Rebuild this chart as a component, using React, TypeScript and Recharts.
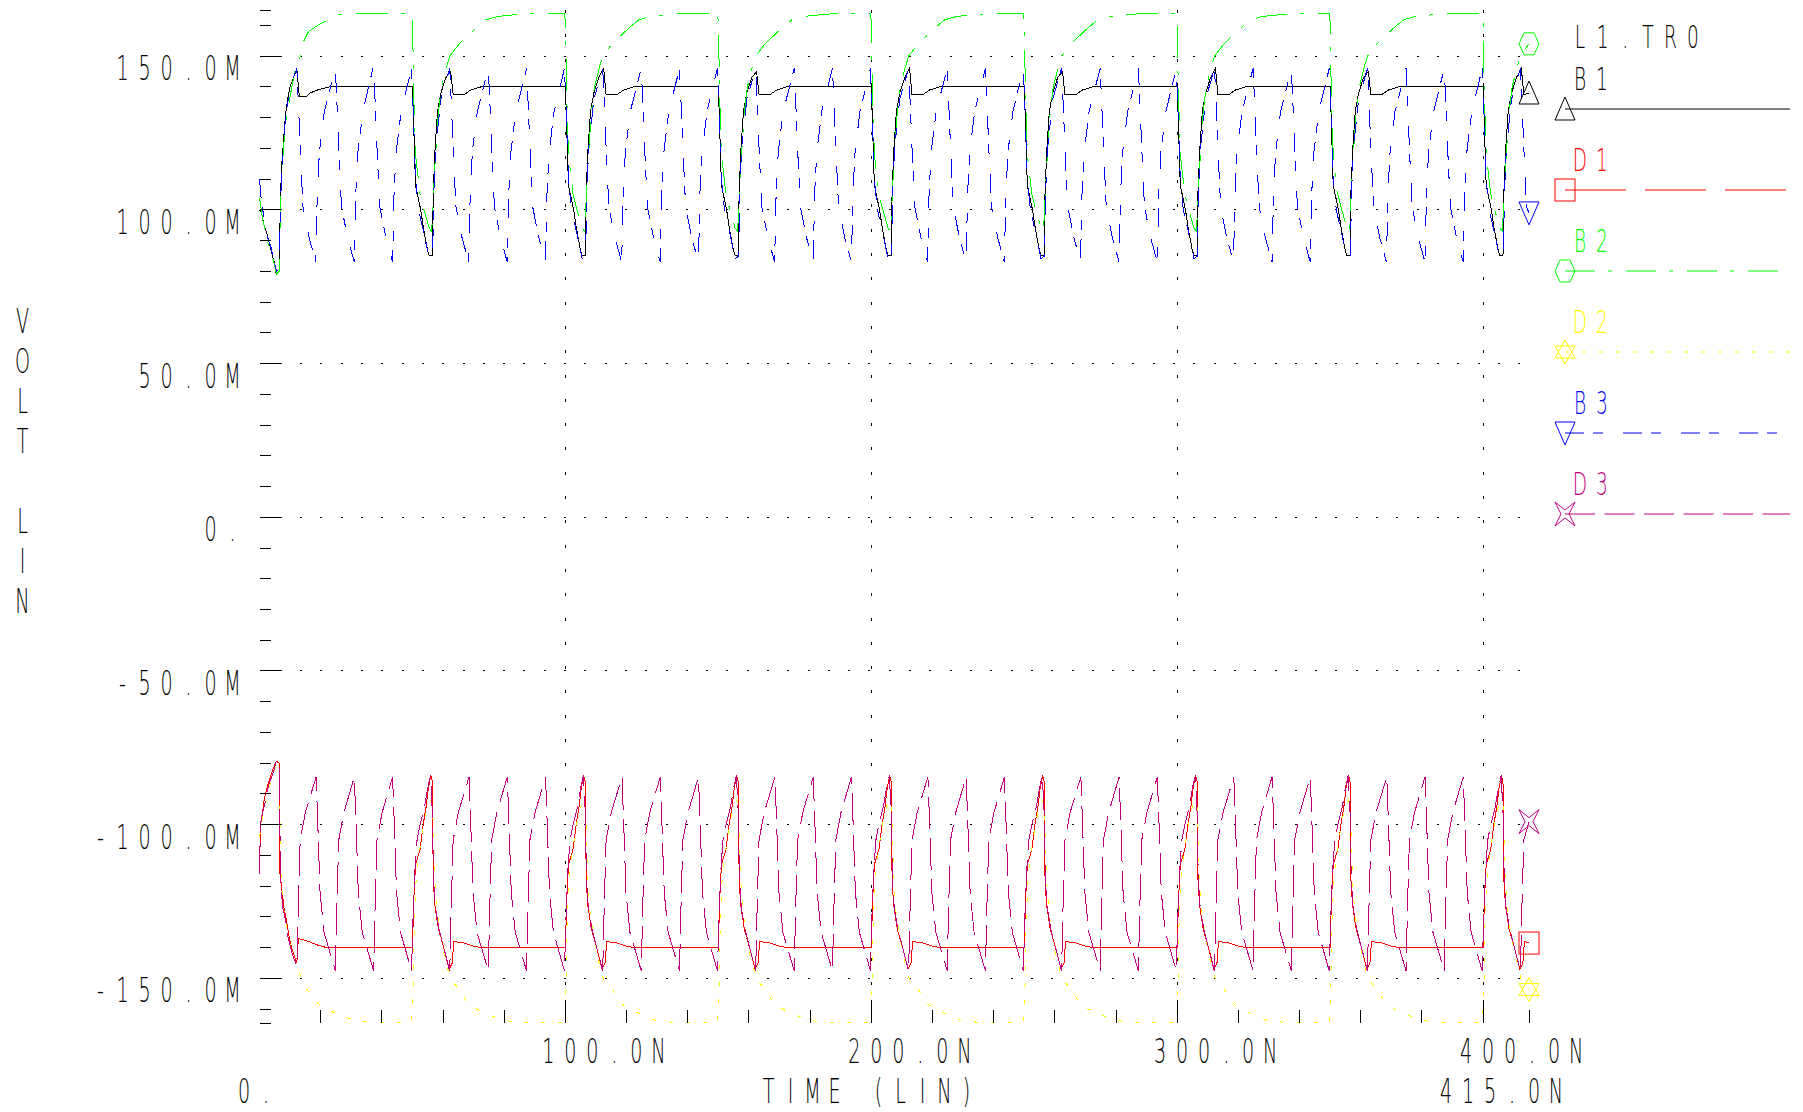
import React from 'react'
import { LineChart, Line, XAxis, YAxis, CartesianGrid, Legend } from 'recharts'

type Pt = [number, number]

// time (ns), voltage (mV)
const B1: Pt[] = [
  [0,100],[0.7,99],[1.5,95],[2.5,92],[3.5,88],[4.8,83],[5.5,79],[6.5,80],[6.8,103],[7.3,115],[8.5,131],[9.2,136],[10,140],[11.5,144],[12.2,146],[13,137],[15.5,137],[16.5,138],[19,139],[23,140],
  [50,140],[50.3,131],[51,108],[52.7,100],[53.6,94],[54.9,87],[55.5,85],[56.5,85],[56.8,106],[57.4,120],[58.2,132],[59.3,138],[60.9,143],[62.5,145],[63.3,137.5],[66.9,137.5],[69.1,139],[72.4,140],
  [100,140],[100.3,131],[101,108],[102.7,100],[103.6,94],[104.9,87],[105.5,85],[106.5,85],[106.8,106],[107.4,120],[108.2,132],[109.3,138],[110.9,143],[112.5,146],[113.3,137.5],[116.9,137.5],[119.1,139],[122.4,140],
  [150,140],[150.3,131],[151,108],[152.7,100],[153.6,94],[154.9,87],[155.5,85],[156.5,85],[156.8,106],[157.4,120],[158.2,132],[159.3,138],[160.9,143],[162.5,145],[163.3,137.5],[166.9,137.5],[169.1,139],[172.4,140],
  [200,140],[200.3,131],[201,108],[202.7,100],[203.6,94],[204.9,87],[205.5,85],[206.5,85],[206.8,106],[207.4,120],[208.2,132],[209.3,138],[210.9,143],[212.5,146],[213.3,137.5],[216.9,137.5],[219.1,139],[222.4,140],
  [250,140],[250.3,131],[251,108],[252.7,100],[253.6,94],[254.9,87],[255.5,85],[256.5,85],[256.8,106],[257.4,120],[258.2,132],[259.3,138],[260.9,143],[262.5,145],[263.3,137.5],[266.9,137.5],[269.1,139],[272.4,140],
  [300,140],[300.3,131],[301,108],[302.7,100],[303.6,94],[304.9,87],[305.5,85],[306.5,85],[306.8,106],[307.4,120],[308.2,132],[309.3,138],[310.9,143],[312.5,146],[313.3,137.5],[316.9,137.5],[319.1,139],[322.4,140],
  [350,140],[350.3,131],[351,108],[352.7,100],[353.6,94],[354.9,87],[355.5,85],[356.5,85],[356.8,106],[357.4,120],[358.2,132],[359.3,138],[360.9,143],[362.5,145],[363.3,137.5],[366.9,137.5],[369.1,139],[372.4,140],
  [400,140],[400.3,131],[401,108],[402.7,100],[403.6,94],[404.9,87],[405.5,85],[406.5,85],[406.8,106],[407.4,120],[408.2,132],[409.3,138],[410.9,143],[412.5,146],[413.3,137.5],[415,138],
]

const D1: Pt[] = [
  [0,-115.7],[0.3,-100],[0.8,-98],[1.5,-92],[3,-86],[4,-83],[5.5,-79.3],[6.4,-80],[6.6,-115],[7.3,-121],[8,-127],[8.8,-131],[9.8,-137],[10.8,-141],[12.2,-145],[12.7,-137],[14.5,-137.5],[16,-138],[18.5,-139],[22,-140],
  [50,-140],[50.4,-125],[51,-113],[52.5,-108],[53.5,-100],[54.5,-94],[55.2,-88],[56,-84],[56.5,-86],[56.8,-118],[57.3,-126],[58.5,-134],[60.5,-141],[62,-147],[63,-145],[63.5,-138],[67,-138.5],[70,-139.5],[72.5,-140],
  [100,-140],[100.4,-125],[101,-113],[102.5,-108],[103.5,-100],[104.5,-94],[105.2,-88],[106,-84],[106.5,-86],[106.8,-118],[107.3,-126],[108.5,-134],[110.5,-141],[112,-147],[113,-145],[113.5,-138],[117,-138.5],[120,-139.5],[122.5,-140],
  [150,-140],[150.4,-125],[151,-113],[152.5,-108],[153.5,-100],[154.5,-94],[155.2,-88],[156,-84],[156.5,-86],[156.8,-118],[157.3,-126],[158.5,-134],[160.5,-141],[162,-147],[163,-145],[163.5,-138],[167,-138.5],[170,-139.5],[172.5,-140],
  [200,-140],[200.4,-125],[201,-113],[202.5,-108],[203.5,-100],[204.5,-94],[205.2,-88],[206,-84],[206.5,-86],[206.8,-118],[207.3,-126],[208.5,-134],[210.5,-141],[212,-147],[213,-145],[213.5,-138],[217,-138.5],[220,-139.5],[222.5,-140],
  [250,-140],[250.4,-125],[251,-113],[252.5,-108],[253.5,-100],[254.5,-94],[255.2,-88],[256,-84],[256.5,-86],[256.8,-118],[257.3,-126],[258.5,-134],[260.5,-141],[262,-147],[263,-145],[263.5,-138],[267,-138.5],[270,-139.5],[272.5,-140],
  [300,-140],[300.4,-125],[301,-113],[302.5,-108],[303.5,-100],[304.5,-94],[305.2,-88],[306,-84],[306.5,-86],[306.8,-118],[307.3,-126],[308.5,-134],[310.5,-141],[312,-147],[313,-145],[313.5,-138],[317,-138.5],[320,-139.5],[322.5,-140],
  [350,-140],[350.4,-125],[351,-113],[352.5,-108],[353.5,-100],[354.5,-94],[355.2,-88],[356,-84],[356.5,-86],[356.8,-118],[357.3,-126],[358.5,-134],[360.5,-141],[362,-147],[363,-145],[363.5,-138],[367,-138.5],[370,-139.5],[372.5,-140],
  [400,-140],[400.4,-125],[401,-113],[402.5,-108],[403.5,-100],[404.5,-94],[405.2,-88],[406,-84],[406.5,-86],[406.8,-118],[407.3,-126],[408.5,-134],[410.5,-141],[412,-147],[413,-145],[413.5,-138],[415,-138.5],
]

const B2: Pt[] = [
  [0,104],[1,97],[2.6,90],[3.7,86],[4.7,83],[5.6,79],[6.4,80],[6.8,98],[7.3,112],[8,122],[9,131],[10,137],[11.6,145],[13.3,150],[14.5,155],[16,158],[19,160],[22.8,162],[26,163.5],[31,164],
  [49.7,164],[50.1,160],[50.3,141],[51,118],[52.5,105],[53.5,101],[55.5,94],[56.3,93],[57.2,112],[57.7,120],[58.5,132],[59.5,140],[61,146],[62.2,150],[65.3,154],[69,157.5],[71.3,159.6],[74,161.8],[77.8,162.9],[83,163.4],[90,164],
  [99.7,164],[100.1,160],[100.3,141],[101,118],[102.5,105],[103.5,101],[105.5,94],[106.3,93],[107.2,112],[107.7,120],[108.5,132],[109.5,140],[111,146],[112.2,150],[115.3,154],[119,157.5],[121.3,159.6],[124,161.8],[127.8,162.9],[133,163.4],[140,164],
  [149.7,164],[150.1,160],[150.3,141],[151,118],[152.5,105],[153.5,101],[155.5,94],[156.3,93],[157.2,112],[157.7,120],[158.5,132],[159.5,140],[161,146],[162.2,150],[165.3,154],[169,157.5],[171.3,159.6],[174,161.8],[177.8,162.9],[183,163.4],[190,164],
  [199.7,164],[200.1,160],[200.3,141],[201,118],[202.5,105],[203.5,101],[205.5,94],[206.3,93],[207.2,112],[207.7,120],[208.5,132],[209.5,140],[211,146],[212.2,150],[215.3,154],[219,157.5],[221.3,159.6],[224,161.8],[227.8,162.9],[233,163.4],[240,164],
  [249.7,164],[250.1,160],[250.3,141],[251,118],[252.5,105],[253.5,101],[255.5,94],[256.3,93],[257.2,112],[257.7,120],[258.5,132],[259.5,140],[261,146],[262.2,150],[265.3,154],[269,157.5],[271.3,159.6],[274,161.8],[277.8,162.9],[283,163.4],[290,164],
  [299.7,164],[300.1,160],[300.3,141],[301,118],[302.5,105],[303.5,101],[305.5,94],[306.3,93],[307.2,112],[307.7,120],[308.5,132],[309.5,140],[311,146],[312.2,150],[315.3,154],[319,157.5],[321.3,159.6],[324,161.8],[327.8,162.9],[333,163.4],[340,164],
  [349.7,164],[350.1,160],[350.3,141],[351,118],[352.5,105],[353.5,101],[355.5,94],[356.3,93],[357.2,112],[357.7,120],[358.5,132],[359.5,140],[361,146],[362.2,150],[365.3,154],[369,157.5],[371.3,159.6],[374,161.8],[377.8,162.9],[383,163.4],[390,164],
  [399.7,164],[400.1,160],[400.3,141],[401,118],[402.5,105],[403.5,101],[405.5,94],[406.3,93],[407.2,112],[407.7,120],[408.5,132],[409.5,140],[411,146],[412.2,150],[415,154],
]

const D2: Pt[] = [
  [0,-104],[1.3,-96],[2.6,-90],[4,-85],[5.6,-80],[6.5,-82],[6.9,-110],[8,-128],[9.5,-137],[11,-143],[12.8,-147],[14,-151.5],[16.5,-155],[19,-158],[22,-160],[26,-162],[31,-163.5],[36,-164.3],
  [49.7,-164.3],[50.1,-158],[50.3,-150],[50.6,-132],[51.2,-118],[52,-111],[53,-104],[54,-98],[55,-94],[56,-92],[56.6,-94],[57.3,-118],[58,-128],[59,-135],[60.5,-143],[62.5,-150.5],[65.3,-153.4],[68,-158],[71,-160],[75.6,-162],[79,-163.5],[85,-164.3],
  [99.7,-164.3],[100.1,-158],[100.3,-150],[100.6,-132],[101.2,-118],[102,-111],[103,-104],[104,-98],[105,-94],[106,-92],[106.6,-94],[107.3,-118],[108,-128],[109,-135],[110.5,-143],[112.5,-150.5],[115.3,-153.4],[118,-158],[121,-160],[125.6,-162],[129,-163.5],[135,-164.3],
  [149.7,-164.3],[150.1,-158],[150.3,-150],[150.6,-132],[151.2,-118],[152,-111],[153,-104],[154,-98],[155,-94],[156,-92],[156.6,-94],[157.3,-118],[158,-128],[159,-135],[160.5,-143],[162.5,-150.5],[165.3,-153.4],[168,-158],[171,-160],[175.6,-162],[179,-163.5],[185,-164.3],
  [199.7,-164.3],[200.1,-158],[200.3,-150],[200.6,-132],[201.2,-118],[202,-111],[203,-104],[204,-98],[205,-94],[206,-92],[206.6,-94],[207.3,-118],[208,-128],[209,-135],[210.5,-143],[212.5,-150.5],[215.3,-153.4],[218,-158],[221,-160],[225.6,-162],[229,-163.5],[235,-164.3],
  [249.7,-164.3],[250.1,-158],[250.3,-150],[250.6,-132],[251.2,-118],[252,-111],[253,-104],[254,-98],[255,-94],[256,-92],[256.6,-94],[257.3,-118],[258,-128],[259,-135],[260.5,-143],[262.5,-150.5],[265.3,-153.4],[268,-158],[271,-160],[275.6,-162],[279,-163.5],[285,-164.3],
  [299.7,-164.3],[300.1,-158],[300.3,-150],[300.6,-132],[301.2,-118],[302,-111],[303,-104],[304,-98],[305,-94],[306,-92],[306.6,-94],[307.3,-118],[308,-128],[309,-135],[310.5,-143],[312.5,-150.5],[315.3,-153.4],[318,-158],[321,-160],[325.6,-162],[329,-163.5],[335,-164.3],
  [349.7,-164.3],[350.1,-158],[350.3,-150],[350.6,-132],[351.2,-118],[352,-111],[353,-104],[354,-98],[355,-94],[356,-92],[356.6,-94],[357.3,-118],[358,-128],[359,-135],[360.5,-143],[362.5,-150.5],[365.3,-153.4],[368,-158],[371,-160],[375.6,-162],[379,-163.5],[385,-164.3],
  [399.7,-164.3],[400.1,-158],[400.3,-150],[400.6,-132],[401.2,-118],[402,-111],[403,-104],[404,-98],[405,-94],[406,-92],[406.6,-94],[407.3,-118],[408,-128],[409,-135],[410.5,-143],[412.5,-150.5],[415,-153.6],
]

const B3: Pt[] = [
  [0,110],[0.5,104],[1.5,97],[2.6,91],[3.7,88],[4.6,84],[5.6,80],[6.5,81],[6.8,100],[7.4,116],[8.5,130],[10,140],[12.2,146],
  [12.7,135],[13.4,118],[14.2,101],[16.2,91],[18.4,83],[18.9,106],[19.6,119],[21.2,132],[24.8,146],[25.3,135],[26,118],[26.8,101],[28.8,91],[31,83],[31.5,106],[32.2,119],[33.8,132],[37.3,147],[37.8,135],[38.5,118],[39.3,101],[41.3,91],[43.5,83],[44,106],[44.7,119],[46.3,132],[49.7,146],
  [50.3,131],[51,110],[52,100],[53.6,93],[55.5,84],[56.6,85],[57,106],[57.6,120],[59.3,136],[62.2,146],[62.7,135],[63.4,118],[64.2,101],[66.2,91],[68.4,83],[68.9,106],[69.6,119],[71.2,132],[74.8,146],[75.3,135],[76,118],[76.8,101],[78.8,91],[81,83],[81.5,106],[82.2,119],[83.8,132],[87.3,146],[87.8,135],[88.5,118],[89.3,101],[91.3,91],[93.5,83],[94,106],[94.7,119],[96.3,132],[99.7,146],
  [100.3,131],[101,110],[102,100],[103.6,93],[105.5,84],[106.6,85],[107,106],[107.6,120],[109.3,136],[112.2,146],[112.7,135],[113.4,118],[114.2,101],[116.2,91],[118.4,83],[118.9,106],[119.6,119],[121.2,132],[124.8,146],[125.3,135],[126,118],[126.8,101],[128.8,91],[131,83],[131.5,106],[132.2,119],[133.8,132],[137.3,146],[137.8,135],[138.5,118],[139.3,101],[141.3,91],[143.5,83],[144,106],[144.7,119],[146.3,132],[149.7,146],
  [150.3,131],[151,110],[152,100],[153.6,93],[155.5,84],[156.6,85],[157,106],[157.6,120],[159.3,136],[162.2,146],[162.7,135],[163.4,118],[164.2,101],[166.2,91],[168.4,83],[168.9,106],[169.6,119],[171.2,132],[174.8,146],[175.3,135],[176,118],[176.8,101],[178.8,91],[181,83],[181.5,106],[182.2,119],[183.8,132],[187.3,146],[187.8,135],[188.5,118],[189.3,101],[191.3,91],[193.5,83],[194,106],[194.7,119],[196.3,132],[199.7,146],
  [200.3,131],[201,110],[202,100],[203.6,93],[205.5,84],[206.6,85],[207,106],[207.6,120],[209.3,136],[212.2,146],[212.7,135],[213.4,118],[214.2,101],[216.2,91],[218.4,83],[218.9,106],[219.6,119],[221.2,132],[224.8,146],[225.3,135],[226,118],[226.8,101],[228.8,91],[231,83],[231.5,106],[232.2,119],[233.8,132],[237.3,146],[237.8,135],[238.5,118],[239.3,101],[241.3,91],[243.5,83],[244,106],[244.7,119],[246.3,132],[249.7,146],
  [250.3,131],[251,110],[252,100],[253.6,93],[255.5,84],[256.6,85],[257,106],[257.6,120],[259.3,136],[262.2,146],[262.7,135],[263.4,118],[264.2,101],[266.2,91],[268.4,83],[268.9,106],[269.6,119],[271.2,132],[274.8,146],[275.3,135],[276,118],[276.8,101],[278.8,91],[281,83],[281.5,106],[282.2,119],[283.8,132],[287.3,146],[287.8,135],[288.5,118],[289.3,101],[291.3,91],[293.5,83],[294,106],[294.7,119],[296.3,132],[299.7,146],
  [300.3,131],[301,110],[302,100],[303.6,93],[305.5,84],[306.6,85],[307,106],[307.6,120],[309.3,136],[312.2,146],[312.7,135],[313.4,118],[314.2,101],[316.2,91],[318.4,83],[318.9,106],[319.6,119],[321.2,132],[324.8,146],[325.3,135],[326,118],[326.8,101],[328.8,91],[331,83],[331.5,106],[332.2,119],[333.8,132],[337.3,146],[337.8,135],[338.5,118],[339.3,101],[341.3,91],[343.5,83],[344,106],[344.7,119],[346.3,132],[349.7,146],
  [350.3,131],[351,110],[352,100],[353.6,93],[355.5,84],[356.6,85],[357,106],[357.6,120],[359.3,136],[362.2,146],[362.7,135],[363.4,118],[364.2,101],[366.2,91],[368.4,83],[368.9,106],[369.6,119],[371.2,132],[374.8,146],[375.3,135],[376,118],[376.8,101],[378.8,91],[381,83],[381.5,106],[382.2,119],[383.8,132],[387.3,146],[387.8,135],[388.5,118],[389.3,101],[391.3,91],[393.5,83],[394,106],[394.7,119],[396.3,132],[399.7,146],
  [400.3,131],[401,110],[402,100],[403.6,93],[405.5,84],[406.6,85],[407,106],[407.6,120],[409.3,136],[412.2,146],[412.7,135],[413.4,118],[414.2,101],[415,99],
]

const D3: Pt[] = [
  [0,-116],[0.3,-100],[1,-96],[2,-92],[3,-87],[4.5,-83],[5.6,-79],[6.4,-80],[6.6,-98],[7,-120],[7.6,-127],[8.5,-131],[9.4,-137],[10.7,-142],[12.2,-146],
  [12.7,-126],[13.3,-105],[15,-96],[18.5,-84.5],[19,-98],[19.8,-122],[21.1,-135],[24.8,-147.5],[25.3,-126],[25.9,-105],[27.6,-96],[31,-84.5],[31.5,-98],[32.3,-122],[33.6,-135],[37.3,-147.5],[37.8,-126],[38.4,-105],[40.1,-96],[43.5,-84.5],[44,-98],[44.8,-122],[46.1,-135],[49.7,-147.5],
  [50.2,-130],[50.8,-115],[51.5,-105],[52.5,-100],[54,-94],[55,-88],[55.9,-84],[56.5,-96],[56.9,-118],[57.5,-127],[58.7,-134],[60.5,-141],[62.2,-147.5],[62.7,-126],[63.3,-105],[65,-96],[68.5,-84.5],[69,-98],[69.8,-122],[71.1,-135],[74.8,-147.5],[75.3,-126],[75.9,-105],[77.6,-96],[81,-84.5],[81.5,-98],[82.3,-122],[83.6,-135],[87.3,-147.5],[87.8,-126],[88.4,-105],[90.1,-96],[93.5,-84.5],[94,-98],[94.8,-122],[96.1,-135],[99.7,-147.5],
  [100.2,-130],[100.8,-115],[101.5,-105],[102.5,-100],[104,-94],[105,-88],[105.9,-84],[106.5,-96],[106.9,-118],[107.5,-127],[108.7,-134],[110.5,-141],[112.2,-147.5],[112.7,-126],[113.3,-105],[115,-96],[118.5,-84.5],[119,-98],[119.8,-122],[121.1,-135],[124.8,-147.5],[125.3,-126],[125.9,-105],[127.6,-96],[131,-84.5],[131.5,-98],[132.3,-122],[133.6,-135],[137.3,-147.5],[137.8,-126],[138.4,-105],[140.1,-96],[143.5,-84.5],[144,-98],[144.8,-122],[146.1,-135],[149.7,-147.5],
  [150.2,-130],[150.8,-115],[151.5,-105],[152.5,-100],[154,-94],[155,-88],[155.9,-84],[156.5,-96],[156.9,-118],[157.5,-127],[158.7,-134],[160.5,-141],[162.2,-147.5],[162.7,-126],[163.3,-105],[165,-96],[168.5,-84.5],[169,-98],[169.8,-122],[171.1,-135],[174.8,-147.5],[175.3,-126],[175.9,-105],[177.6,-96],[181,-84.5],[181.5,-98],[182.3,-122],[183.6,-135],[187.3,-147.5],[187.8,-126],[188.4,-105],[190.1,-96],[193.5,-84.5],[194,-98],[194.8,-122],[196.1,-135],[199.7,-147.5],
  [200.2,-130],[200.8,-115],[201.5,-105],[202.5,-100],[204,-94],[205,-88],[205.9,-84],[206.5,-96],[206.9,-118],[207.5,-127],[208.7,-134],[210.5,-141],[212.2,-147.5],[212.7,-126],[213.3,-105],[215,-96],[218.5,-84.5],[219,-98],[219.8,-122],[221.1,-135],[224.8,-147.5],[225.3,-126],[225.9,-105],[227.6,-96],[231,-84.5],[231.5,-98],[232.3,-122],[233.6,-135],[237.3,-147.5],[237.8,-126],[238.4,-105],[240.1,-96],[243.5,-84.5],[244,-98],[244.8,-122],[246.1,-135],[249.7,-147.5],
  [250.2,-130],[250.8,-115],[251.5,-105],[252.5,-100],[254,-94],[255,-88],[255.9,-84],[256.5,-96],[256.9,-118],[257.5,-127],[258.7,-134],[260.5,-141],[262.2,-147.5],[262.7,-126],[263.3,-105],[265,-96],[268.5,-84.5],[269,-98],[269.8,-122],[271.1,-135],[274.8,-147.5],[275.3,-126],[275.9,-105],[277.6,-96],[281,-84.5],[281.5,-98],[282.3,-122],[283.6,-135],[287.3,-147.5],[287.8,-126],[288.4,-105],[290.1,-96],[293.5,-84.5],[294,-98],[294.8,-122],[296.1,-135],[299.7,-147.5],
  [300.2,-130],[300.8,-115],[301.5,-105],[302.5,-100],[304,-94],[305,-88],[305.9,-84],[306.5,-96],[306.9,-118],[307.5,-127],[308.7,-134],[310.5,-141],[312.2,-147.5],[312.7,-126],[313.3,-105],[315,-96],[318.5,-84.5],[319,-98],[319.8,-122],[321.1,-135],[324.8,-147.5],[325.3,-126],[325.9,-105],[327.6,-96],[331,-84.5],[331.5,-98],[332.3,-122],[333.6,-135],[337.3,-147.5],[337.8,-126],[338.4,-105],[340.1,-96],[343.5,-84.5],[344,-98],[344.8,-122],[346.1,-135],[349.7,-147.5],
  [350.2,-130],[350.8,-115],[351.5,-105],[352.5,-100],[354,-94],[355,-88],[355.9,-84],[356.5,-96],[356.9,-118],[357.5,-127],[358.7,-134],[360.5,-141],[362.2,-147.5],[362.7,-126],[363.3,-105],[365,-96],[368.5,-84.5],[369,-98],[369.8,-122],[371.1,-135],[374.8,-147.5],[375.3,-126],[375.9,-105],[377.6,-96],[381,-84.5],[381.5,-98],[382.3,-122],[383.6,-135],[387.3,-147.5],[387.8,-126],[388.4,-105],[390.1,-96],[393.5,-84.5],[394,-98],[394.8,-122],[396.1,-135],[399.7,-147.5],
  [400.2,-130],[400.8,-115],[401.5,-105],[402.5,-100],[404,-94],[405,-88],[405.9,-84],[406.5,-96],[406.9,-118],[407.5,-127],[408.7,-134],[410.5,-141],[412.2,-147.5],[412.7,-126],[413.3,-105],[415,-99],
]

const timeTicks = [0, 20, 40, 60, 80, 100, 120, 140, 160, 180, 200, 220, 240, 260, 280, 300, 320, 340, 360, 380, 400, 415]
const timeMajors = [0, 100, 200, 300, 400, 415]
const timeLabels = ['0.', '100.0N', '200.0N', '300.0N', '400.0N', '415.0N']
const voltTicks = [-164.5, -160, -150, -140, -130, -120, -110, -100, -90, -80, -70, -60, -50, -40, -30, -20, -10, 0, 10, 20, 30, 40, 50, 60, 70, 80, 90, 100, 110, 120, 130, 140, 150, 160, 165]
const voltMajors = [150, 100, 50, 0, -50, -100, -150]
const voltLabels = ['150.0M', '100.0M', '50.0M', '0.', '-50.0M', '-100.0M', '-150.0M']
const gridTimes = [100, 200, 300, 400]

const series = [
  { name: 'B1', data: B1, color: '#000000', dash: undefined, keyDash: undefined, mark: 'tri' },
  { name: 'D1', data: D1, color: '#ff0000', dash: undefined, keyDash: '61 19', mark: 'square' },
  { name: 'B2', data: B2, color: '#00ff00', dash: '32 13 4 14', keyDash: '30 13 4 14', mark: 'hex' },
  { name: 'D2', data: D2, color: '#ffff00', dash: '4 13', keyDash: '4 13', mark: 'star6' },
  { name: 'B3', data: B3, color: '#0000ff', dash: '19 9 10 20', keyDash: '19 9 10 20', mark: 'tridown' },
  { name: 'D3', data: D3, color: '#c0007f', dash: '32 9.5', keyDash: '30 9.5', mark: 'star4' },
]

const W = 1803
const H = 1112
const X0 = 259.5
const X1 = 1529
const Y0 = 10
const Y1 = 1023
const FONT = "'DejaVu Sans', 'Liberation Sans', sans-serif"

// plotter style lettering: fixed pitch, tall narrow thin glyphs
function Glyphs({ text, x, y, pitch = 22, fill = '#000', size = 33 }: any) {
  return (
    <g fill={fill} fontFamily={FONT} fontSize={size} fontWeight={200}>
      {Array.from(text as string).map((ch, i) =>
        ch === ' ' ? null : (
          <text key={i} textAnchor="middle" transform={`translate(${x + i * pitch} ${y}) scale(0.58 1)`}>
            {ch}
          </text>
        )
      )}
    </g>
  )
}

function Mark({ kind, cx, cy, color }: any) {
  const st = { fill: 'none', stroke: color, strokeWidth: 1 }
  const poly = (pts: number[][]) => (
    <polygon {...st} points={pts.map(([dx, dy]) => `${cx + dx},${cy + dy}`).join(' ')} />
  )
  if (kind === 'tri') return poly([[0, -12], [-10, 11], [10, 11]])
  if (kind === 'tridown') return poly([[-10, -11], [10, -11], [0, 12]])
  if (kind === 'square') return <rect {...st} x={cx - 10} y={cy - 11} width={20} height={22} />
  if (kind === 'hex') return poly([[-10, 0], [-5, -11], [5, -11], [10, 0], [5, 11], [-5, 11]])
  if (kind === 'star6')
    return (
      <g>
        {poly([[0, -12], [-10, 6], [10, 6]])}
        {poly([[0, 12], [-10, -6], [10, -6]])}
      </g>
    )
  return poly([[-10, -12], [0, -4], [10, -12], [4, 0], [10, 12], [0, 4], [-10, 12], [-4, 0]])
}

const endDot = (kind: string, color: string, n: number) => (p: any) => (
  <g key={`d${p.index}`}>{p.index === n - 1 ? <Mark kind={kind} cx={p.cx} cy={p.cy} color={color} /> : null}</g>
)

function VoltTickLeft(p: any) {
  const v = p.payload.value
  const k = voltMajors.indexOf(v)
  const label = k >= 0 ? voltLabels[k] : null
  return (
    <g>
      <line x1={X0} x2={X0 + (k >= 0 ? 22 : 11)} y1={p.y} y2={p.y} stroke="#000" shapeRendering="crispEdges" />
      {label && <Glyphs text={label} x={232.5 - (label.length - 1) * 22} y={p.y + 24} />}
    </g>
  )
}

function VoltTickRight(p: any) {
  const major = voltMajors.indexOf(p.payload.value) >= 0
  return <line x1={X1 - (major ? 22 : 11)} x2={X1} y1={p.y} y2={p.y} stroke="#000" shapeRendering="crispEdges" />
}

function TimeTick(p: any) {
  const t = p.payload.value
  const x = p.x
  const k = timeMajors.indexOf(t)
  const label = k >= 0 ? timeLabels[k] : null
  const major = t % 100 === 0
  let text = null
  if (label && t === 0) text = <Glyphs text={label} x={x - 15.5} y={1103} />
  else if (label && t === 415) text = <Glyphs text={label} x={x - 83} y={1103} />
  else if (label) text = <Glyphs text={label} x={x - 17} y={1063} />
  return (
    <g>
      {t > 0 && <line x1={x} x2={x} y1={major ? 1000 : 1010} y2={Y1} stroke="#000" shapeRendering="crispEdges" />}
      {text}
    </g>
  )
}

function TimeTitle() {
  return <Glyphs text="TIME (LIN)" x={768.5} y={1103} />
}

function VoltTitle() {
  return (
    <g>
      {Array.from('VOLT LIN').map((ch, i) =>
        ch === ' ' ? null : <Glyphs key={i} text={ch} x={22.5} y={333 + i * 40} />
      )}
    </g>
  )
}

function PlotKey() {
  return (
    <svg width={263} height={540} style={{ display: 'block' }}>
      <g transform="translate(-1540 0)">
        <Glyphs text="L1.TR0" x={1580} y={48} pitch={22.6} size={32} />
        {series.map((s, i) => {
          const ly = 109 + i * 81
          return (
            <g key={s.name}>
              <Glyphs text={s.name} x={1580} y={ly - 19.5} fill={s.color} size={32} />
              <line x1={1565} x2={1790} y1={ly} y2={ly} stroke={s.color} strokeDasharray={s.keyDash} />
              <Mark kind={s.mark} cx={1565} cy={ly} color={s.color} />
            </g>
          )
        })}
      </g>
    </svg>
  )
}

export default function App() {
  return (
    <div style={{ position: 'absolute', left: 0, top: 0, width: W, height: H, background: '#fff' }}>
      <LineChart width={W} height={H} margin={{ top: Y0, right: W - X1 - 1, bottom: H - Y1 - 1, left: X0 - 1 }}>
        <CartesianGrid
          yAxisId="l"
          vertical={false}
          horizontalValues={voltMajors}
          stroke="#000"
          strokeDasharray="2 18.3"
          shapeRendering="crispEdges"
        />
        <CartesianGrid
          yAxisId="l"
          horizontal={false}
          verticalValues={gridTimes}
          stroke="#000"
          strokeDasharray="3 21.3"
          shapeRendering="crispEdges"
        />
        <XAxis
          dataKey="t"
          type="number"
          domain={[0, 415]}
          ticks={timeTicks}
          interval={0}
          height={1}
          tickLine={false}
          axisLine={false}
          tick={(p: any) => <TimeTick {...p} />}
          label={<TimeTitle />}
        />
        <YAxis
          yAxisId="l"
          orientation="left"
          type="number"
          domain={[-164.5, 165]}
          ticks={voltTicks}
          interval={0}
          width={1}
          tickLine={false}
          axisLine={false}
          tick={(p: any) => <VoltTickLeft {...p} />}
          label={<VoltTitle />}
        />
        <YAxis
          yAxisId="r"
          orientation="right"
          type="number"
          domain={[-164.5, 165]}
          ticks={voltTicks}
          interval={0}
          width={1}
          tickLine={false}
          axisLine={false}
          tick={(p: any) => <VoltTickRight {...p} />}
        />
        {series.map((s) => (
          <Line
            key={s.name}
            yAxisId="l"
            name={s.name}
            data={s.data.map(([t, v]) => ({ t, v }))}
            dataKey="v"
            type="linear"
            stroke={s.color}
            strokeWidth={1}
            strokeDasharray={s.dash}
            shapeRendering="crispEdges"
            dot={endDot(s.mark, s.color, s.data.length)}
            activeDot={false}
            isAnimationActive={false}
          />
        ))}
        <Legend
          layout="horizontal"
          verticalAlign="middle"
          align="center"
          content={<PlotKey />}
          wrapperStyle={{ position: 'absolute', left: 1540, top: 0, width: 263, height: 540, margin: 0, padding: 0 }}
        />
      </LineChart>
    </div>
  )
}
